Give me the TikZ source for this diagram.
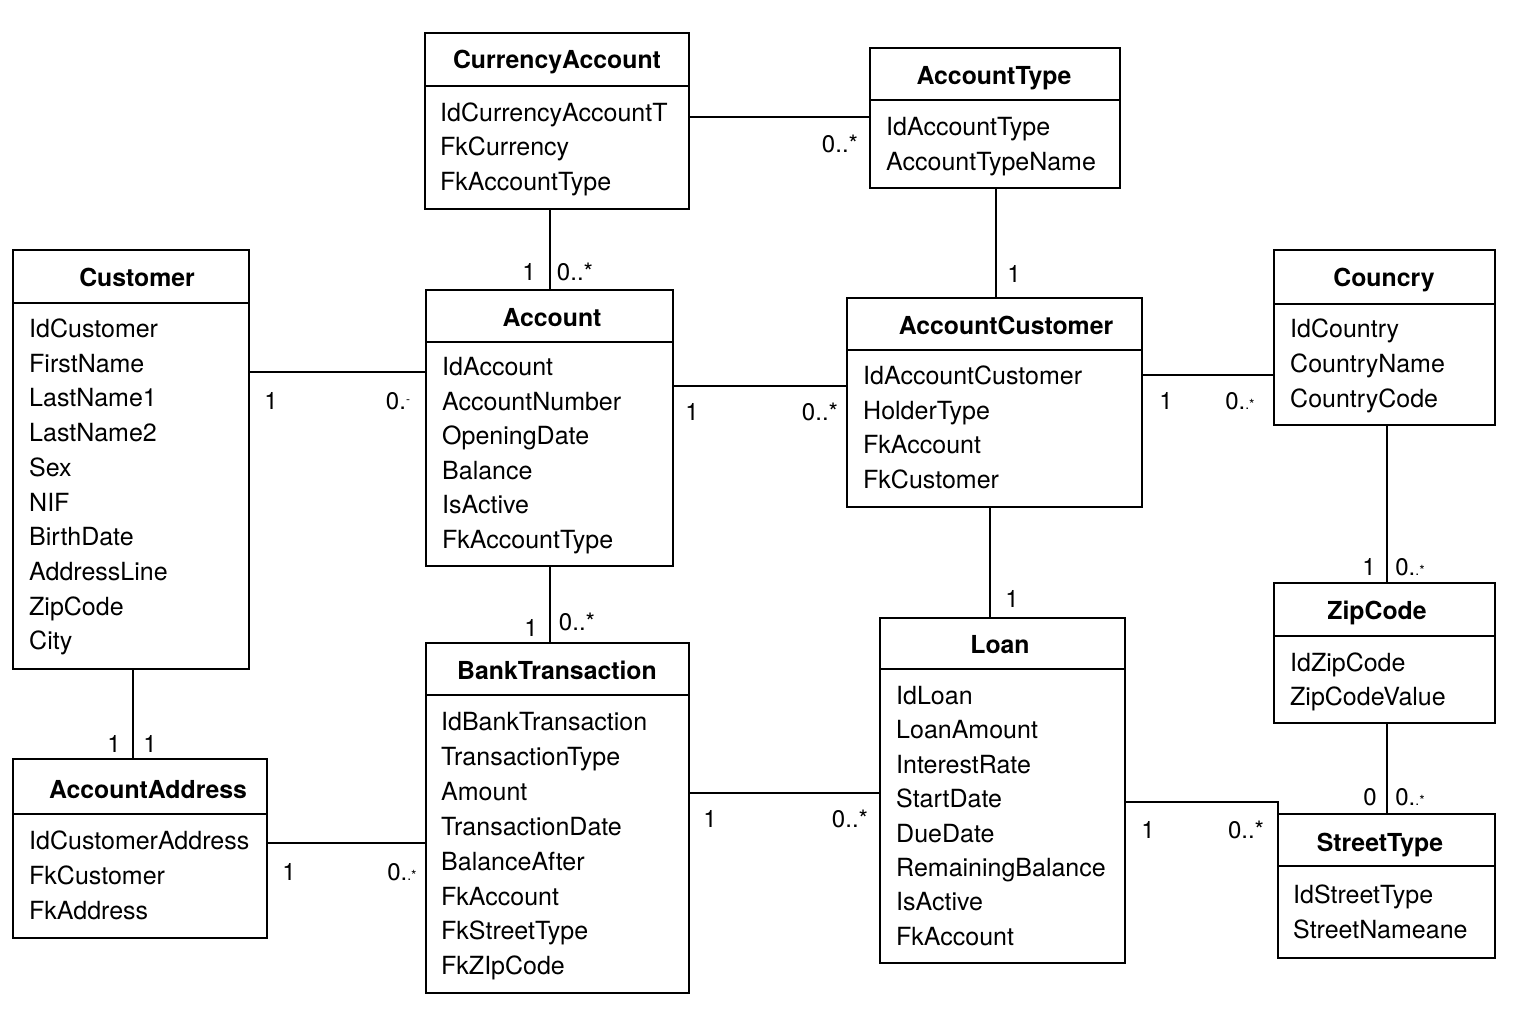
\documentclass[tikz,border=0pt]{standalone}
\usepackage{fontspec}
\setmainfont{TeX Gyre Heros}
\newcommand\zmany{0..*}
\newcommand\zsmall{0.{\fontsize{14}{14}\selectfont .*}}
\begin{document}
\begin{tikzpicture}[x=1pt,y=-1pt,
  cls/.style={draw, line width=1.6pt, anchor=north west, outer sep=0pt, inner sep=0pt},
  ttl/.style={anchor=base, font=\fontsize{24.8}{28}\selectfont\bfseries, inner sep=0pt},
  attr/.style={anchor=base west, font=\fontsize{25}{28}\selectfont, inner sep=0pt},
  mult/.style={anchor=base, font=\fontsize{24}{28}\selectfont, inner sep=0pt},
  conn/.style={line width=1.6pt},
  divl/.style={line width=1.6pt}]
\useasboundingbox[fill=white] (0,0) rectangle (1536,1024);

% ---------- CurrencyAccount
\node[cls, minimum width=264pt, minimum height=176pt] (ca) at (425,33) {};
\draw[divl] ([yshift=-53pt]ca.north west) -- ([yshift=-53pt]ca.north east);
\node[ttl] (ca-t) at (557,69) {CurrencyAccount};
\foreach \t [count=\i from 0] in {IdCurrencyAccountT,FkCurrency,FkAccountType}
  \node[attr] (ca-a\i) at (440,{121.5+34.5*\i}) {\t};

% ---------- AccountType
\node[cls, minimum width=250pt, minimum height=140pt] (at) at (870,48) {};
\draw[divl] ([yshift=-52pt]at.north west) -- ([yshift=-52pt]at.north east);
\node[ttl] (at-t) at (994,85) {AccountType};
\foreach \t [count=\i from 0] in {IdAccountType,AccountTypeName}
  \node[attr] (at-a\i) at (886,{135.5+35*\i}) {\t};

% ---------- Customer
\node[cls, minimum width=236pt, minimum height=419pt] (cu) at (13,250) {};
\draw[divl] ([yshift=-53pt]cu.north west) -- ([yshift=-53pt]cu.north east);
\node[ttl] (cu-t) at (137,287) {Customer};
\foreach \t [count=\i from 0] in {IdCustomer,FirstName,LastName1,LastName2,Sex,NIF,BirthDate,AddressLine,ZipCode,City}
  \node[attr] (cu-a\i) at (29,{337.5+34.7*\i}) {\t};

% ---------- Account
\node[cls, minimum width=247pt, minimum height=276pt] (ac) at (426,290) {};
\draw[divl] ([yshift=-52pt]ac.north west) -- ([yshift=-52pt]ac.north east);
\node[ttl] (ac-t) at (552,326) {Account};
\foreach \t [count=\i from 0] in {IdAccount,AccountNumber,OpeningDate,Balance,IsActive,FkAccountType}
  \node[attr] (ac-a\i) at (442,{375.5+34.6*\i}) {\t};

% ---------- AccountCustomer
\node[cls, minimum width=295pt, minimum height=209pt] (acu) at (847,298) {};
\draw[divl] ([yshift=-52pt]acu.north west) -- ([yshift=-52pt]acu.north east);
\node[ttl] (acu-t) at (1006,334) {AccountCustomer};
\foreach \t [count=\i from 0] in {IdAccountCustomer,HolderType,FkAccount,FkCustomer}
  \node[attr] (acu-a\i) at (863,{384.5+34.7*\i}) {\t};

% ---------- Councry
\node[cls, minimum width=221pt, minimum height=175pt] (co) at (1274,250) {};
\draw[divl] ([yshift=-54pt]co.north west) -- ([yshift=-54pt]co.north east);
\node[ttl] (co-t) at (1384,287) {Councry};
\foreach \t [count=\i from 0] in {IdCountry,CountryName,CountryCode}
  \node[attr] (co-a\i) at (1290,{337.5+35*\i}) {\t};

% ---------- ZipCode
\node[cls, minimum width=221pt, minimum height=140pt] (zc) at (1274,583) {};
\draw[divl] ([yshift=-53pt]zc.north west) -- ([yshift=-53pt]zc.north east);
\node[ttl] (zc-t) at (1377,619) {ZipCode};
\foreach \t [count=\i from 0] in {IdZipCode,ZipCodeValue}
  \node[attr] (zc-a\i) at (1290,{671.5+34*\i}) {\t};

% ---------- StreetType
\node[cls, minimum width=217pt, minimum height=144pt] (st) at (1278,814) {};
\draw[divl] ([yshift=-52pt]st.north west) -- ([yshift=-52pt]st.north east);
\node[ttl] (st-t) at (1380,851) {StreetType};
\foreach \t [count=\i from 0] in {IdStreetType,StreetNameane}
  \node[attr] (st-a\i) at (1293,{903.5+35*\i}) {\t};

% ---------- AccountAddress
\node[cls, minimum width=254pt, minimum height=179pt] (aa) at (13,759) {};
\draw[divl] ([yshift=-55pt]aa.north west) -- ([yshift=-55pt]aa.north east);
\node[ttl] (aa-t) at (148,798) {AccountAddress};
\foreach \t [count=\i from 0] in {IdCustomerAddress,FkCustomer,FkAddress}
  \node[attr] (aa-a\i) at (29,{849.5+35*\i}) {\t};

% ---------- BankTransaction
\node[cls, minimum width=263pt, minimum height=350pt] (bt) at (426,643) {};
\draw[divl] ([yshift=-52pt]bt.north west) -- ([yshift=-52pt]bt.north east);
\node[ttl] (bt-t) at (557,679) {BankTransaction};
\foreach \t [count=\i from 0] in {IdBankTransaction,TransactionType,Amount,TransactionDate,BalanceAfter,FkAccount,FkStreetType,FkZIpCode}
  \node[attr] (bt-a\i) at (441,{730.5+34.9*\i}) {\t};

% ---------- Loan
\node[cls, minimum width=245pt, minimum height=345pt] (lo) at (880,618) {};
\draw[divl] ([yshift=-51pt]lo.north west) -- ([yshift=-51pt]lo.north east);
\node[ttl] (lo-t) at (1000,653) {Loan};
\foreach \t [count=\i from 0] in {IdLoan,LoanAmount,InterestRate,StartDate,DueDate,RemainingBalance,IsActive,FkAccount}
  \node[attr] (lo-a\i) at (896,{704.5+34.4*\i}) {\t};

% ---------- connectors
\draw[conn] (ca.east |- 0,117) -- (at.west |- 0,117);
\draw[conn] (550,0 |- ca.south) -- (550,0 |- ac.north);
\draw[conn] (996,0 |- at.south) -- (996,0 |- acu.north);
\draw[conn] (cu.east |- 0,372) -- (ac.west |- 0,372);
\draw[conn] (ac.east |- 0,386) -- (acu.west |- 0,386);
\draw[conn] (acu.east |- 0,375) -- (co.west |- 0,375);
\draw[conn] (990,0 |- acu.south) -- (990,0 |- lo.north);
\draw[conn] (550,0 |- ac.south) -- (550,0 |- bt.north);
\draw[conn] (1387,0 |- co.south) -- (1387,0 |- zc.north);
\draw[conn] (1387,0 |- zc.south) -- (1387,0 |- st.north);
\draw[conn] (133,0 |- cu.south) -- (133,0 |- aa.north);
\draw[conn] (aa.east |- 0,843) -- (bt.west |- 0,843);
\draw[conn] (bt.east |- 0,793) -- (lo.west |- 0,793);
\draw[conn] (lo.east |- 0,802) -- (st.north west |- 0,802) -- (st.north west);

% ---------- multiplicities
\node[mult] (m1) at (840,153) {\zmany};
\node[mult] (m2) at (529,280) {1};
\node[mult] (m3) at (575,280) {\zmany};
\node[mult] (m4) at (1014,283) {1};
\node[mult] (m5) at (271,409) {1};
\node[mult] (m6) at (398,409) {0.\raisebox{6pt}{\fontsize{12}{12}\selectfont -}};
\node[mult] (m7) at (692,420) {1};
\node[mult] (m8) at (820,420) {\zmany};
\node[mult] (m9) at (1166,409) {1};
\node[mult] (m10) at (1240,409) {\zsmall};
\node[mult] (m11) at (1012,607) {1};
\node[mult] (m12) at (531,636) {1};
\node[mult] (m13) at (577,630) {\zmany};
\node[mult] (m14) at (1369,575) {1};
\node[mult] (m15) at (1410,575) {\zsmall};
\node[mult] (m16) at (1370,805) {0};
\node[mult] (m17) at (1410,805) {\zsmall};
\node[mult] (m18) at (114,752) {1};
\node[mult] (m19) at (150,752) {1};
\node[mult] (m20) at (289,880) {1};
\node[mult] (m21) at (402,880) {\zsmall};
\node[mult] (m22) at (710,827) {1};
\node[mult] (m23) at (850,827) {\zmany};
\node[mult] (m24) at (1148,838) {1};
\node[mult] (m25) at (1246,838) {\zmany};
\end{tikzpicture}
\end{document}
